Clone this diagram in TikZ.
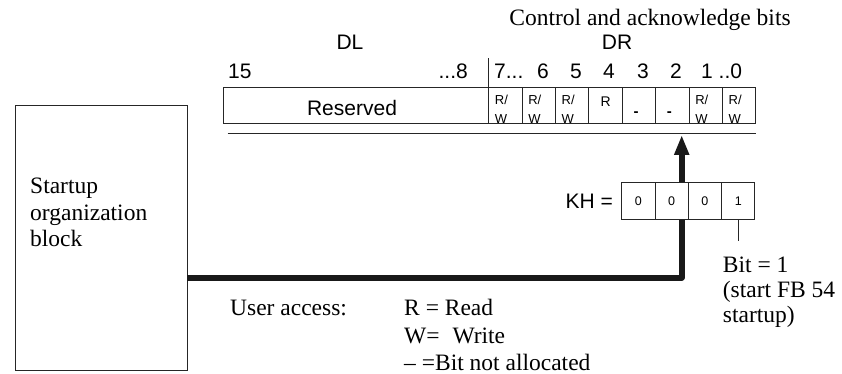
\documentclass[tikz,border=0pt]{standalone}
\usepackage{fontspec}
\setmainfont{Liberation Serif}
\setsansfont{Liberation Sans}
\usetikzlibrary{arrows.meta}
\begin{document}
\begin{tikzpicture}[x=1pt,y=-1pt,
  frame/.style={draw=black!85,line width=1pt},
  boxnode/.style={frame,rectangle,inner sep=0,outer sep=0,anchor=north west},
  regcell/.style={boxnode,minimum width=33.4pt,minimum height=36pt},
  khcell/.style={boxnode,fill=white,minimum width=33.3pt,minimum height=36.5pt,
    font=\sffamily\fontsize{12.5}{14}\selectfont},
  serif/.style={font=\fontsize{23.5}{26}\selectfont,inner sep=0,anchor=base west},
  sans/.style={font=\sffamily\fontsize{21}{24}\selectfont,inner sep=0,anchor=base},
  small/.style={font=\sffamily\fontsize{13}{14}\selectfont,inner sep=0,anchor=base west},
  feed/.style={line width=6pt,draw=black!90,line join=round,
    -{Triangle[width=14pt,length=20pt]}}
]
\useasboundingbox (0,0) rectangle (842,374);

% startup organization block
\node[boxnode,minimum width=172pt,minimum height=264pt] (sob) at (15,106) {};
\node[serif] (sob1) at (30,193) {Startup};
\node[serif] (sob2) at (30,220) {organization};
\node[serif] (sob3) at (30,246) {block};

% headings
\node[serif,anchor=base] (cab) at (650,26) {Control and acknowledge bits};
\node[sans] (dl) at (350,50) {DL};
\node[sans] (dr) at (617,50) {DR};

% bit numbers
\node[sans,anchor=base west] (n15) at (228,79) {15};
\node[sans,anchor=base east] (n8) at (468,79) {...8};
\node[sans,anchor=base west] (n7) at (494,79) {7...};
\node[sans] (n6) at (543,79) {6};
\node[sans] (n5) at (576,79) {5};
\node[sans] (n4) at (609,79) {4};
\node[sans] (n3) at (643,79) {3};
\node[sans] (n2) at (676,79) {2};
\node[sans,anchor=base west] (n10) at (701,79) {1 ..0};

% data word register
\node[boxnode,minimum width=265.7pt,minimum height=36pt] (res) at (223,88) {};
\node[sans] (reslbl) at (352,116) {Reserved};
\foreach \i/\b in {0/7,1/6,2/5,3/4,4/3,5/2,6/1,7/0}
  \node[regcell] (b\b) at ({488.7+33.4*\i},88) {};
\foreach \b in {7,6,5,1,0}{
  \node[small] (rt\b) at ([xshift=6pt,yshift=-17pt]b\b.north west) {R/};
  \node[small] (rb\b) at ([xshift=6pt,yshift=-35.5pt]b\b.north west) {W};
}
\node[font=\sffamily\fontsize{14}{16}\selectfont,inner sep=0,anchor=base] (r4) at ([yshift=-19pt]b4.north) {R};
\foreach \b in {3,2}
  \node[font=\sffamily\bfseries\fontsize{15}{16}\selectfont,inner sep=0,anchor=base]
    (d\b) at ([xshift=-3pt,yshift=-29pt]b\b.north) {-};

% DL/DR divider and rule below the register
\draw[frame] (b7.north west) -- ++(0,-30);
\coordinate (ruleL) at (227.7,133.5);
\coordinate (ruleR) at (755.5,133.5);
\draw[frame] (ruleL) -- (ruleR);

% feed line from the startup block to the control bits
\coordinate (jy) at (0,277.5);
\coordinate (tip) at (681.7,135);
\draw[feed] (sob.east |- jy) -| (tip);

% KH parameter
\foreach \i/\k/\v in {0/3/0,1/2/0,2/1/0,3/0/1}
  \node[khcell] (k\k) at ({621.7+33.3*\i},182.7) {\v};
\node[sans,anchor=base east] (kh) at (613,208) {KH =};
\coordinate (tickend) at ([yshift=-22pt]k0.south);
\draw[frame] (k0.south) -- (tickend);
\node[serif] (bit1) at (722.7,272) {Bit = 1};
\node[serif] (bit2) at (722.7,297) {(start FB 54};
\node[serif] (bit3) at (722.7,322) {startup)};

% legend
\node[serif] (ua) at (230,315) {User access:};
\node[serif] (lr) at (404,315) {R = Read};
\node[serif] (lw) at (404,343) {W=\hspace{0.55em}Write};
\node[serif] (ln) at (404,370) {\textendash{} =Bit not allocated};
\end{tikzpicture}
\end{document}
